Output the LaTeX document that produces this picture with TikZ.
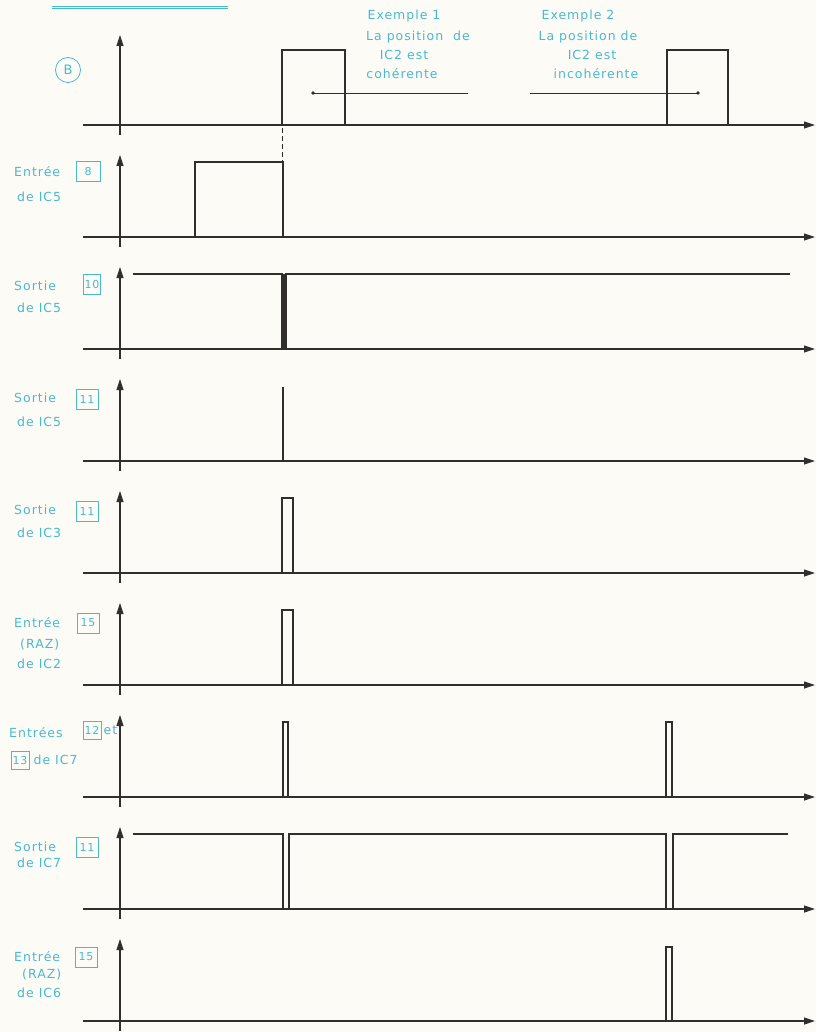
\documentclass[tikz,border=0pt]{standalone}
\usepackage{fontspec}
\newfontfamily\lblfont[LetterSpace=8]{DejaVu Sans}
\usetikzlibrary{arrows.meta, positioning}
\definecolor{labelcyan}{RGB}{72,186,206}
\definecolor{paper}{RGB}{253,251,246}
\definecolor{trace}{RGB}{50,46,46}
\tikzset{
    axis/.style={line width=1.1pt, draw=trace, -{Triangle[length=11pt,width=7pt]}},
    signal/.style={line width=2pt, draw=trace, line join=miter},
    spike/.style={line width=1.3pt, draw=trace},
    lbl/.style={font=\lblfont\fontsize{12.5}{14}\selectfont, text=labelcyan,
                inner sep=0pt, anchor=west},
    note/.style={lbl, anchor=center},
    pinbox/.style={draw=labelcyan, line width=0.8pt, text=labelcyan,
                   font=\lblfont\fontsize{11}{12}\selectfont, inner sep=0pt,
                   minimum width=24pt, minimum height=20pt},
    guide/.style={line width=0.9pt, draw=trace},
}
\begin{document}
\begin{tikzpicture}[x=1pt, y=-1pt]
    \fill[paper] (0,0) rectangle (816,1032);
    \useasboundingbox (0,0) rectangle (816,1032);
    % header underline
    \draw[labelcyan, line width=0.6pt] (52,6) -- (228,6);
    \draw[labelcyan, line width=0.6pt] (52,8.5) -- (228,8.5);
    % axes
    \draw[axis] (120,135) -- (120,35);
    \draw[axis] (83,125) -- (815,125);
    \foreach \b in {237,349,...,1021} {
        \draw[axis] (120,\b+10) -- (120,\b-82);
        \draw[axis] (83,\b) -- (815,\b);
    }
    % signal B
    \draw[signal] (133,125) -- (282,125) -- (282,50) -- (345,50) -- (345,125)
        -- (667,125) -- (667,50) -- (728,50) -- (728,125) -- (800,125);
    \draw[guide, dash pattern=on 5pt off 3pt] (282,128) -- (282,162);
    % entree 8 de IC5
    \draw[signal] (133,237) -- (195,237) -- (195,162) -- (283,162) -- (283,237) -- (800,237);
    % sortie 10 de IC5
    \draw[signal] (133,274) -- (282,274) -- (282,349) -- (286,349) -- (286,274) -- (790,274);
    \fill[trace] (282,274) rectangle (286,349);
    % sortie 11 de IC5
    \draw[signal] (133,461) -- (800,461);
    \draw[spike] (283,461) -- (283,387);
    % sortie 11 de IC3
    \draw[signal] (133,573) -- (282,573) -- (282,498) -- (293,498) -- (293,573) -- (800,573);
    % entree 15 de IC2
    \draw[signal] (133,685) -- (282,685) -- (282,610) -- (293,610) -- (293,685) -- (800,685);
    % entrees 12 et 13 de IC7
    \draw[signal] (133,797) -- (283,797) -- (283,722) -- (288,722) -- (288,797)
        -- (666,797) -- (666,722) -- (672,722) -- (672,797) -- (800,797);
    % sortie 11 de IC7
    \draw[signal] (133,834) -- (283,834) -- (283,909) -- (289,909) -- (289,834)
        -- (666,834) -- (666,909) -- (673,909) -- (673,834) -- (788,834);
    % entree 15 de IC6
    \draw[signal] (133,1021) -- (666,1021) -- (666,947) -- (672,947) -- (672,1021) -- (800,1021);
    % examples
    \node[note] (ex1) at (404,16) {Exemple 1};
    \node[note] (ex1a) at (418,37) {La position \ de};
    \node[note] (ex1b) at (404,55) {IC2 est};
    \node[note] (ex1c) at (402,74) {cohérente};
    \node[note] (ex2) at (578,16) {Exemple 2};
    \node[note] (ex2a) at (588,37) {La position de};
    \node[note] (ex2b) at (592,55) {IC2 est};
    \node[note] (ex2c) at (596,74) {incohérente};
    \fill[trace] (313,93) circle (1.8pt);
    \coordinate (ex1end) at (468,93);
    \draw[guide] (313,93) -- (ex1end);
    \fill[trace] (698,93) circle (1.8pt);
    \coordinate (ex2start) at (530,93);
    \draw[guide] (ex2start) -- (698,93);
    % signal names
    \node[circle, draw=labelcyan, line width=0.8pt, minimum size=25pt, inner sep=0pt,
          text=labelcyan, font=\lblfont\fontsize{13}{14}\selectfont] (sigB) at (68,70) {B};
    \node[lbl] (e8) at (14,172) {Entrée};
    \node[pinbox] (p8) at (88,171) {8};
    \node[lbl] (e8b) at (17,197) {de IC5};
    \node[lbl] (s10) at (14,286) {Sortie};
    \node[pinbox, minimum width=17pt] (p10) at (92,284) {10};
    \node[lbl] (s10b) at (17,308) {de IC5};
    \node[lbl] (s11) at (14,398) {Sortie};
    \node[pinbox, minimum width=22pt] (p11) at (87,399) {11};
    \node[lbl] (s11b) at (17,422) {de IC5};
    \node[lbl] (t11) at (14,510) {Sortie};
    \node[pinbox, minimum width=22pt] (q11) at (87,511) {11};
    \node[lbl] (t11b) at (17,533) {de IC3};
    \node[lbl] (e15) at (14,623) {Entrée};
    \node[pinbox, minimum width=22pt] (p15) at (88,623) {15};
    \node[lbl] (e15b) at (20,645) {(RAZ)};
    \node[lbl] (e15c) at (17,664) {de IC2};
    \node[lbl] (e12) at (9,733) {Entrées};
    \node[pinbox, minimum width=18pt, minimum height=18pt] (p12) at (92,730) {12};
    \node[lbl, right=2pt of p12] (e12b) {et};
    \node[pinbox, minimum width=18pt, minimum height=18pt] (p13) at (20,760) {13};
    \node[lbl, right=4pt of p13] (e13b) {de IC7};
    \node[lbl] (u11) at (14,847) {Sortie};
    \node[pinbox, minimum width=22pt] (r11) at (87,847) {11};
    \node[lbl] (u11b) at (17,863) {de IC7};
    \node[lbl] (f15) at (14,957) {Entrée};
    \node[pinbox, minimum width=22pt] (q15) at (86,957) {15};
    \node[lbl] (f15b) at (22,975) {(RAZ)};
    \node[lbl] (f15c) at (17,993) {de IC6};
\end{tikzpicture}
\end{document}
